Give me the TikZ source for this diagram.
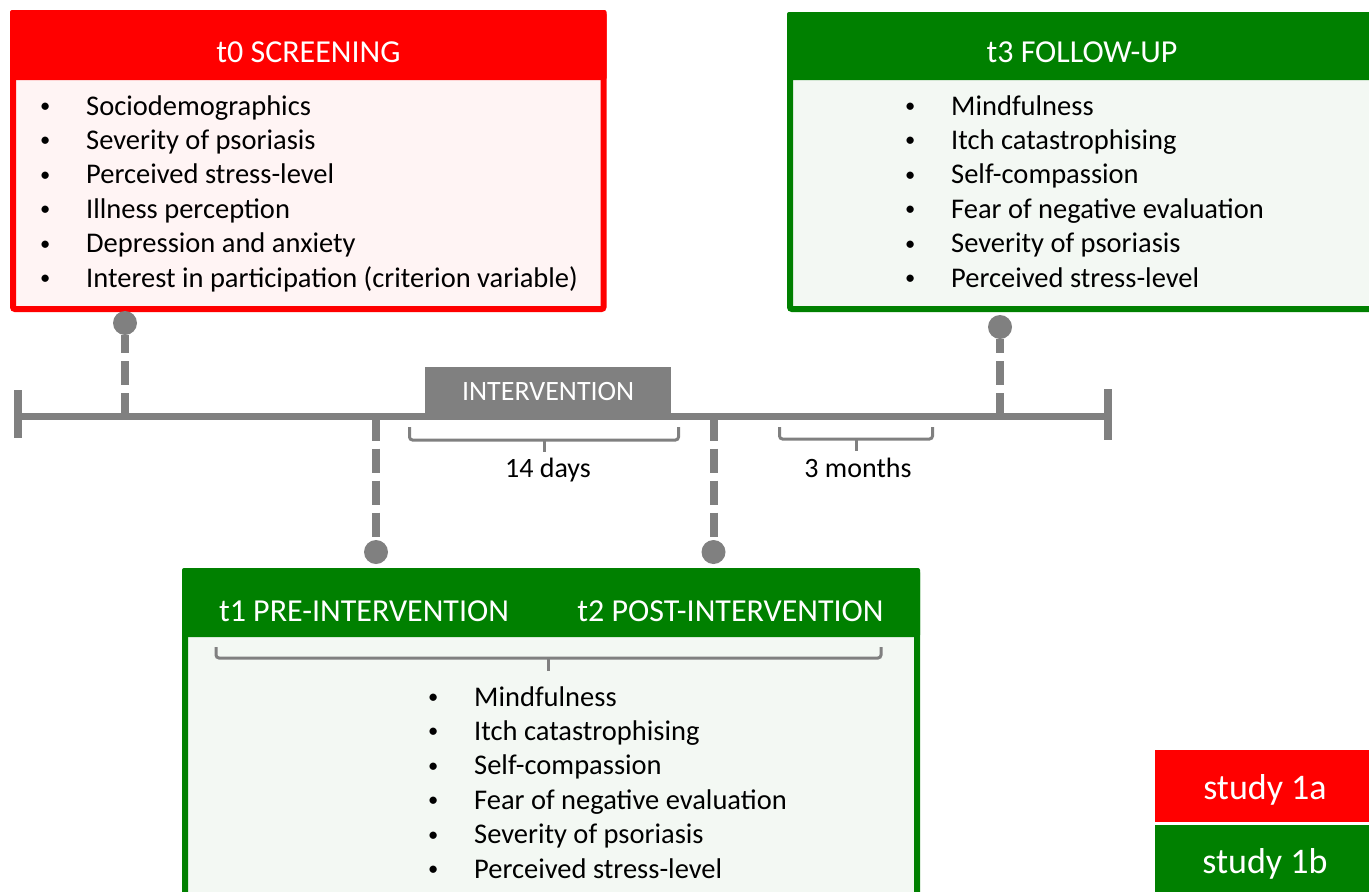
\documentclass[tikz,border=0pt]{standalone}
\usepackage{fontspec}
\setmainfont{Carlito}
\usetikzlibrary{calc}
\definecolor{tlgray}{HTML}{808080}
\definecolor{studyred}{HTML}{FF0000}
\definecolor{studygreen}{HTML}{008000}
\definecolor{redbody}{HTML}{FFF4F4}
\definecolor{greenbody}{HTML}{F3F8F3}
\newcommand{\listdot}{\raisebox{2.5pt}{\scalebox{0.72}{\textbullet}}}

\begin{document}
\begin{tikzpicture}[x=1pt,y=-1pt,
    panel/.style={line width=6pt,rounded corners=2pt},
    head/.style={text=white,font=\fontsize{32}{38}\selectfont,anchor=base,inner sep=0pt},
    list/.style={font=\fontsize{28.5}{34.4}\selectfont,anchor=base west,inner sep=0pt},
    note/.style={font=\fontsize{28}{34}\selectfont,anchor=base,inner sep=0pt},
    legend/.style={text=white,font=\fontsize{36}{42}\selectfont,anchor=base,inner sep=0pt},
    dot/.style={circle,fill=tlgray,minimum size=24pt,inner sep=0pt},
    stem/.style={draw=tlgray,line width=8pt,dash pattern=on 24pt off 8pt},
    axis/.style={draw=tlgray,line width=7pt},
    bracket/.style={draw=tlgray,line width=3pt,rounded corners=3pt}]
              \useasboundingbox (0,0) rectangle (1369,892);
              \clip (0,0) rectangle (1369,892);
              \def\tly{416.5}

              \draw[panel,draw=studyred,fill=redbody] (13,13) rectangle (603.5,309);
              \fill[studyred,rounded corners=2pt] (10,10) rectangle (606.5,80);
              \node[head] (t0head) at (308.5,62) {t0 SCREENING};
              \node[list] (t0list) at (40,115) {\begin{tabular}[t]{@{}p{46pt}@{}l@{}}
                \listdot & Sociodemographics\\
                \listdot & Severity of psoriasis\\
                \listdot & Perceived stress-level\\
                \listdot & Illness perception\\
                \listdot & Depression and anxiety\\
                \listdot & Interest in participation (criterion variable)
              \end{tabular}};

              \draw[panel,draw=studygreen,fill=greenbody] (790,15) rectangle (1390,309);
              \fill[studygreen,rounded corners=2pt] (787,12) rectangle (1395,80);
              \node[head] (t3head) at (1082,62) {t3 FOLLOW-UP};
              \node[list] (t3list) at (905,115) {\begin{tabular}[t]{@{}p{46pt}@{}l@{}}
                \listdot & Mindfulness\\
                \listdot & Itch catastrophising\\
                \listdot & Self-compassion\\
                \listdot & Fear of negative evaluation\\
                \listdot & Severity of psoriasis\\
                \listdot & Perceived stress-level
              \end{tabular}};

              \draw[panel,draw=studygreen,fill=greenbody] (185,571) rectangle (917,910);
              \fill[studygreen,rounded corners=2pt] (182,568) rectangle (920,637);
              \node[head] (t1head) at (364,621) {t1 PRE-INTERVENTION};
              \node[head] (t2head) at (730.5,621) {t2 POST-INTERVENTION};
              \draw[bracket] (216,647) -- (216,658) -- (881,658) -- (881,647);
              \draw[bracket] (548.5,658) -- (548.5,671);
              \node[list] (t12list) at (428,706) {\begin{tabular}[t]{@{}p{46pt}@{}l@{}}
                \listdot & Mindfulness\\
                \listdot & Itch catastrophising\\
                \listdot & Self-compassion\\
                \listdot & Fear of negative evaluation\\
                \listdot & Severity of psoriasis\\
                \listdot & Perceived stress-level
              \end{tabular}};

              \node[fill=tlgray,text=white,font=\fontsize{28}{34}\selectfont,
                minimum width=246pt,minimum height=49.5pt,inner sep=0pt,
                anchor=south west] (interv) at (425,\tly) {INTERVENTION};
              \coordinate (start) at (18,\tly);
              \coordinate (end) at (1107.5,\tly);
              \draw[axis] (start) -- (end);
              \draw[axis,line width=8pt] (18,390) -- (18,438);
              \draw[axis,line width=8pt] (1107.5,389) -- (1107.5,440);

              \node[dot] (c0) at (125,323) {};
              \node[dot] (c1) at (376,552) {};
              \node[dot] (c2) at (713.5,552) {};
              \node[dot] (c3) at (1000,327) {};
              \coordinate (m0) at (125,\tly);
              \coordinate (m1) at (376,\tly);
              \coordinate (m2) at (713.5,\tly);
              \coordinate (m3) at (1000,\tly);
              \draw[stem] (m0) -- (c0);
              \draw[stem] (m1) -- (c1);
              \draw[stem] (m2) -- (c2);
              \draw[stem] (m3) -- (c3);

              \draw[bracket] (409.5,427) -- (409.5,440) -- (678.5,440) -- (678.5,427);
              \draw[bracket] (544,440) -- (544,451.5);
              \node[note] (days) at (548,477) {14 days};
              \draw[bracket] (779.5,427) -- (779.5,439) -- (932.5,439) -- (932.5,427);
              \draw[bracket] (856,439) -- (856,450.5);
              \node[note] (months) at (858,477) {3 months};

              \fill[studyred] (1155,749.5) rectangle (1380,821.5);
              \fill[studygreen] (1155,825) rectangle (1380,900);
              \node[legend] (leg1a) at (1265,799) {study 1a};
              \node[legend] (leg1b) at (1265,873) {study 1b};
            \end{tikzpicture}
\end{document}
